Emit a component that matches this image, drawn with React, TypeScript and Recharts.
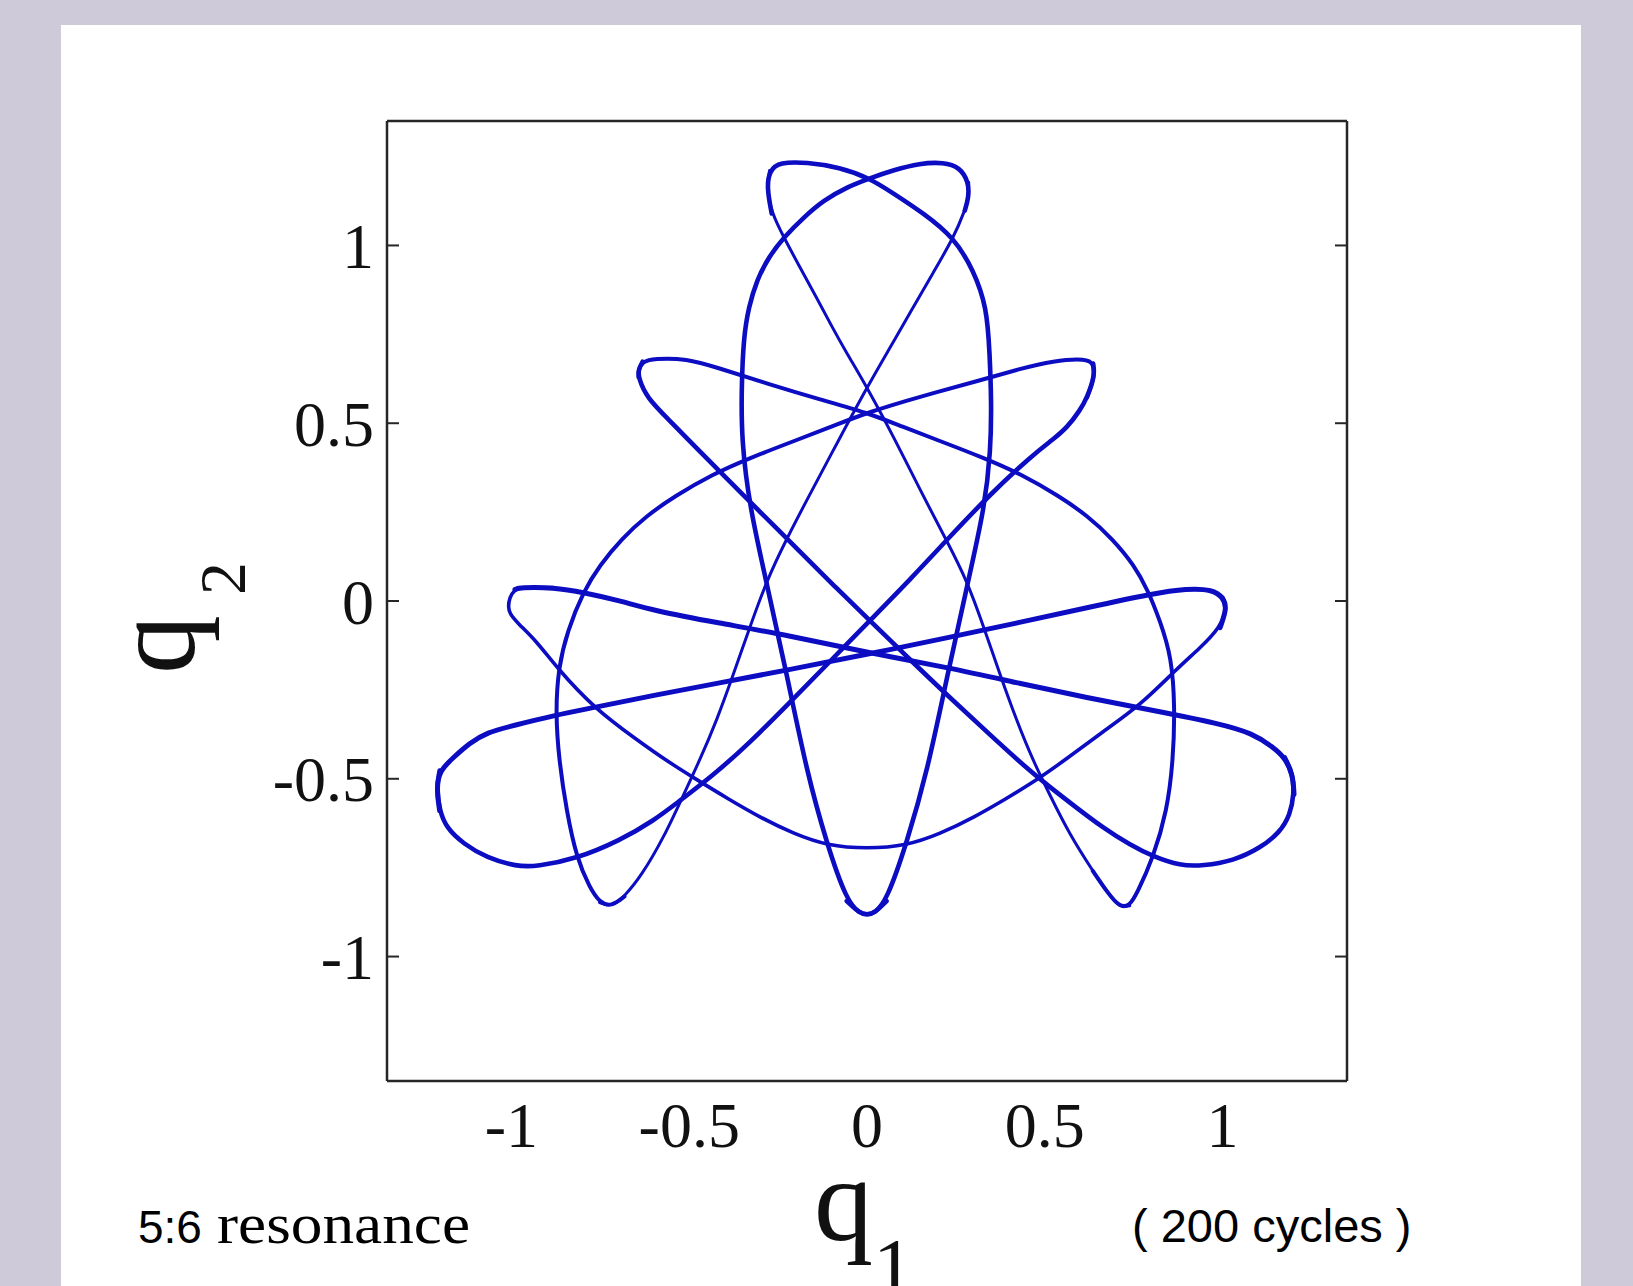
import React from 'react';
import { ScatterChart, Scatter, XAxis, YAxis } from 'recharts';

type Pt = [number, number];

const xTicks = [-1, -0.5, 0, 0.5, 1];
const yTicks = [-1, -0.5, 0, 0.5, 1];
const axisDomain: [number, number] = [-1.35, 1.35];

// the orbit, read off the picture strand by strand (each strand runs tip to tip,
// with one point of overlap into the next strand so the tips come out round)
// bottom tip -> left side of the tall oval -> right top petal
const bottomToRightPetal: Pt[] = [
  [0.055, -0.844], [0.02, -0.879], [0, -0.882], [-0.02, -0.879], [-0.057, -0.844], [-0.113, -0.683],
  [-0.17, -0.478], [-0.226, -0.204], [-0.282, 0.049], [-0.33, 0.263], [-0.353, 0.452],
  [-0.353, 0.601], [-0.347, 0.742], [-0.333, 0.826], [-0.31, 0.902], [-0.277, 0.967],
  [-0.234, 1.023], [-0.178, 1.079], [-0.122, 1.127], [-0.057, 1.164], [0.008, 1.189],
  [0.075, 1.212], [0.148, 1.231], [0.216, 1.234], [0.261, 1.22], [0.286, 1.178], [0.286, 1.135],
  [0.275, 1.098],
];

// right top petal -> thin line down-left -> bottom-left tip
const rightPetalToBottomLeft: Pt[] = [
  [0.286, 1.178], [0.286, 1.135], [0.275, 1.098], [0.244, 1.023], [0.186, 0.923], [0.122, 0.812],
  [0.062, 0.708], [0, 0.601], [-0.08, 0.452], [-0.165, 0.292], [-0.228, 0.171],
  [-0.282, 0.058], [-0.33, -0.075], [-0.375, -0.204], [-0.423, -0.337], [-0.471, -0.449],
  [-0.516, -0.545], [-0.572, -0.666], [-0.634, -0.772], [-0.682, -0.831], [-0.719, -0.86],
  [-0.752, -0.848],
];

// bottom-left tip -> left arc -> upper-right tip
const bottomLeftToUpperRight: Pt[] = [
  [-0.682, -0.831], [-0.719, -0.86], [-0.752, -0.848], [-0.78, -0.806], [-0.817, -0.722],
  [-0.845, -0.59], [-0.866, -0.45], [-0.876, -0.315], [-0.868, -0.187], [-0.843, -0.085],
  [-0.797, 0.028], [-0.752, 0.1], [-0.69, 0.175], [-0.62, 0.24], [-0.54, 0.295],
  [-0.437, 0.355], [-0.33, 0.402], [-0.2, 0.452], [-0.1, 0.49], [0, 0.53],
  [0.149, 0.575], [0.317, 0.62], [0.43, 0.653], [0.523, 0.676], [0.619, 0.682],
  [0.636, 0.668], [0.641, 0.634], [0.619, 0.572],
];

// upper-right tip -> through the centre -> lower-left loop
const upperRightToLeftLoop: Pt[] = [
  [0.636, 0.668], [0.641, 0.634], [0.619, 0.572], [0.599, 0.536], [0.563, 0.488], [0.523, 0.454],
  [0.467, 0.412], [0.346, 0.3], [0.233, 0.181], [0.121, 0.06], [0.008, -0.055],
  [-0.105, -0.171], [-0.218, -0.286], [-0.33, -0.399], [-0.437, -0.494], [-0.527, -0.562],
  [-0.6, -0.618], [-0.696, -0.674], [-0.817, -0.725], [-0.929, -0.747], [-0.985, -0.747],
  [-1.07, -0.722], [-1.135, -0.683], [-1.183, -0.638], [-1.202, -0.59], [-1.211, -0.525],
  [-1.202, -0.477],
];

// lower-left loop -> long line -> right tip
const leftLoopToRightTip: Pt[] = [
  [-1.202, -0.59], [-1.211, -0.525], [-1.202, -0.477], [-1.163, -0.44], [-1.118, -0.4], [-1.07, -0.37],
  [-0.994, -0.35], [-0.881, -0.322], [-0.769, -0.3], [-0.6, -0.265], [-0.423, -0.232],
  [-0.218, -0.193], [0, -0.15], [0.233, -0.102], [0.43, -0.06], [0.619, -0.019],
  [0.805, 0.021], [0.9, 0.035], [0.973, 0.032], [1.001, 0.01], [1.013, -0.019], [0.993, -0.075],
];

// right tip -> bottom arc -> left tip
const rightTipToLeftTip: Pt[] = [
  [1.001, 0.01], [1.013, -0.019], [0.993, -0.075], [0.937, -0.132], [0.872, -0.19], [0.768, -0.294],
  [0.664, -0.367], [0.56, -0.445], [0.478, -0.503], [0.393, -0.555], [0.3, -0.609],
  [0.205, -0.655], [0.112, -0.688], [0, -0.697], [-0.112, -0.688], [-0.205, -0.655],
  [-0.3, -0.609], [-0.393, -0.555], [-0.478, -0.503], [-0.56, -0.452], [-0.648, -0.39],
  [-0.769, -0.3], [-0.873, -0.187], [-0.93, -0.112], [-0.985, -0.06], [-1.005, -0.035],
  [-1.009, -0.018], [-1.006, 0.01], [-0.99, 0.032], [-0.977, 0.038], [-0.882, 0.038],
];

// lower-right loop -> long line -> left tip
const rightLoopToLeftTip: Pt[] = [
  [1.201, -0.544], [1.198, -0.488], [1.175, -0.44], [1.14, -0.41], [1.086, -0.373], [0.993, -0.345],
  [0.805, -0.308], [0.619, -0.272], [0.43, -0.232], [0.233, -0.188], [0, -0.145],
  [-0.218, -0.097], [-0.423, -0.061], [-0.6, -0.027], [-0.696, 0.001], [-0.797, 0.024],
  [-0.882, 0.038], [-0.977, 0.038], [-0.99, 0.032],
];

// upper-left tip -> through the centre -> lower-right loop
const upperLeftToRightLoop: Pt[] = [
  [-0.631, 0.673], [-0.643, 0.651], [-0.643, 0.629], [-0.62, 0.572], [-0.555, 0.508],
  [-0.479, 0.429], [-0.4, 0.35], [-0.302, 0.252], [-0.189, 0.139], [-0.091, 0.041],
  [0.008, -0.055], [0.121, -0.165], [0.233, -0.272], [0.346, -0.376], [0.444, -0.466],
  [0.514, -0.523], [0.585, -0.578], [0.664, -0.638], [0.74, -0.686], [0.805, -0.719],
  [0.881, -0.745], [0.945, -0.745], [1.03, -0.731], [1.106, -0.695], [1.162, -0.65],
  [1.19, -0.601], [1.201, -0.544], [1.198, -0.488], [1.175, -0.44],
];

// bottom-right tip -> right arc -> upper-left tip
const bottomRightToUpperLeft: Pt[] = [
  [0.635, -0.759], [0.677, -0.821], [0.711, -0.862], [0.739, -0.857], [0.759, -0.823], [0.805, -0.722],
  [0.844, -0.59], [0.861, -0.449], [0.866, -0.3], [0.857, -0.159], [0.824, -0.055],
  [0.79, 0.03], [0.752, 0.1], [0.69, 0.175], [0.62, 0.24], [0.54, 0.295],
  [0.437, 0.355], [0.33, 0.402], [0.2, 0.452], [0.1, 0.49], [0, 0.53],
  [-0.133, 0.567], [-0.274, 0.609], [-0.423, 0.657], [-0.507, 0.682], [-0.6, 0.682],
  [-0.631, 0.673], [-0.643, 0.651], [-0.643, 0.629],
];

// left top petal -> thin line down-right -> bottom-right tip
const leftPetalToBottomRight: Pt[] = [
  [-0.274, 1.211], [-0.282, 1.163], [-0.268, 1.09], [-0.234, 1.023], [-0.189, 0.939], [-0.142, 0.854],
  [-0.099, 0.772], [-0.057, 0.697], [0, 0.601], [0.076, 0.46], [0.16, 0.291],
  [0.224, 0.17], [0.281, 0.058], [0.329, -0.075], [0.373, -0.204], [0.421, -0.337],
  [0.467, -0.449], [0.514, -0.545], [0.57, -0.657], [0.635, -0.759], [0.677, -0.821],
  [0.711, -0.862], [0.739, -0.857],
];

// bottom tip -> right side of the tall oval -> left top petal
const bottomToLeftPetal: Pt[] = [
  [-0.057, -0.844], [-0.02, -0.879], [0, -0.882], [0.02, -0.879], [0.055, -0.844], [0.111, -0.683],
  [0.17, -0.478], [0.227, -0.204], [0.283, 0.049], [0.331, 0.263], [0.348, 0.423],
  [0.35, 0.56], [0.345, 0.697], [0.337, 0.826], [0.3, 0.93], [0.244, 1.023],
  [0.16, 1.09], [0.075, 1.146], [0.008, 1.189], [-0.077, 1.22], [-0.17, 1.234],
  [-0.246, 1.234], [-0.274, 1.211], [-0.282, 1.163], [-0.268, 1.09],
];

const strands = [
  { key: 'bottomToRightPetal', pts: bottomToRightPetal },
  { key: 'rightPetalToBottomLeft', pts: rightPetalToBottomLeft },
  { key: 'bottomLeftToUpperRight', pts: bottomLeftToUpperRight },
  { key: 'upperRightToLeftLoop', pts: upperRightToLeftLoop },
  { key: 'leftLoopToRightTip', pts: leftLoopToRightTip },
  { key: 'rightTipToLeftTip', pts: rightTipToLeftTip },
  { key: 'rightLoopToLeftTip', pts: rightLoopToLeftTip },
  { key: 'upperLeftToRightLoop', pts: upperLeftToRightLoop },
  { key: 'bottomRightToUpperLeft', pts: bottomRightToUpperLeft },
  { key: 'leftPetalToBottomRight', pts: leftPetalToBottomRight },
  { key: 'bottomToLeftPetal', pts: bottomToLeftPetal },
];

const strandWidth: Record<string, number> = {
  bottomToRightPetal: 4.6,
  rightPetalToBottomLeft: 3,
  bottomLeftToUpperRight: 4,
  upperRightToLeftLoop: 4.6,
  leftLoopToRightTip: 5,
  rightTipToLeftTip: 3.6,
  rightLoopToLeftTip: 5,
  upperLeftToRightLoop: 4.6,
  bottomRightToUpperLeft: 4,
  leftPetalToBottomRight: 3,
  bottomToLeftPetal: 4.6,
};

const BLUE = '#0c0cc2';
const FRAME = '#262626';
const serif = "'Liberation Serif', 'Times New Roman', serif";
const sans = "'Liberation Sans', Arial, sans-serif";

const noDot = () => <g />;
const noLabel = () => <g />;

export default function App() {
  const frameAxis = {
    type: 'number' as const,
    domain: axisDomain,
    interval: 0 as const,
    allowDataOverflow: true,
    mirror: true,
    tick: noLabel,
    tickSize: 12,
    tickLine: { stroke: FRAME, strokeWidth: 2 },
    axisLine: { stroke: FRAME, strokeWidth: 2.5 },
  };

  return (
    <div
      style={{
        position: 'absolute',
        left: 0,
        top: 0,
        width: 1633,
        height: 1286,
        background: '#cfcad9',
        overflow: 'hidden',
      }}
    >
      <div style={{ position: 'absolute', left: 61, top: 25, width: 1520, height: 1261, background: '#fff' }} />
      <div style={{ position: 'absolute', left: 0, top: 0 }}>
        <ScatterChart width={1633} height={1286} margin={{ top: 121, right: 286, bottom: 0, left: 0 }}>
          <XAxis
            xAxisId="q1"
            dataKey="x"
            type="number"
            domain={axisDomain}
            ticks={xTicks}
            interval={0}
            allowDataOverflow
            height={205}
            axisLine={false}
            tickLine={false}
            tickSize={0}
            tickMargin={21}
            tick={{ fontSize: 64, fill: '#111', fontFamily: serif }}
          />
          <XAxis xAxisId="bottomFrame" ticks={xTicks} {...frameAxis} />
          <XAxis xAxisId="topFrame" orientation="top" ticks={xTicks} {...frameAxis} />
          <YAxis
            yAxisId="q2"
            dataKey="y"
            type="number"
            domain={axisDomain}
            ticks={yTicks}
            interval={0}
            allowDataOverflow
            width={387}
            axisLine={false}
            tickLine={false}
            tickSize={0}
            tickMargin={13}
            tick={{ fontSize: 64, fill: '#111', fontFamily: serif }}
          />
          <YAxis yAxisId="leftFrame" ticks={yTicks} {...frameAxis} />
          <YAxis yAxisId="rightFrame" orientation="right" ticks={yTicks} {...frameAxis} />
          {strands.map((s) => (
            <Scatter
              key={s.key}
              name={s.key}
              xAxisId="q1"
              yAxisId="q2"
              data={s.pts.map(([x, y]) => ({ x, y }))}
              fill={BLUE}
              shape={noDot}
              line={{ stroke: BLUE, strokeWidth: strandWidth[s.key], strokeLinejoin: 'round', strokeLinecap: 'round' }}
              lineType="joint"
              lineJointType="basis"
              isAnimationActive={false}
            />
          ))}
        </ScatterChart>
      </div>
      <svg width={1633} height={1286} style={{ position: 'absolute', left: 0, top: 0, pointerEvents: 'none' }}>
        <text x={814} y={1240} fontFamily={serif} fontSize={118} fill="#111">
          q<tspan fontSize={82} dy={55}>1</tspan>
        </text>
        <text x={194} y={674} transform="rotate(-90 194 674)" fontFamily={serif} fontSize={118} fill="#111">
          q<tspan fontSize={66} dx={20} dy={51}>2</tspan>
        </text>
        <text x={138} y={1243} fontFamily={sans} fontSize={46} fill="#000">5:6</text>
        <text x={217} y={1243} fontFamily={serif} fontSize={58} fill="#000" textLength={253} lengthAdjust="spacingAndGlyphs">
          resonance
        </text>
        <text x={1132} y={1242} fontFamily={sans} fontSize={47} fill="#000">( 200 cycles )</text>
      </svg>
    </div>
  );
}
